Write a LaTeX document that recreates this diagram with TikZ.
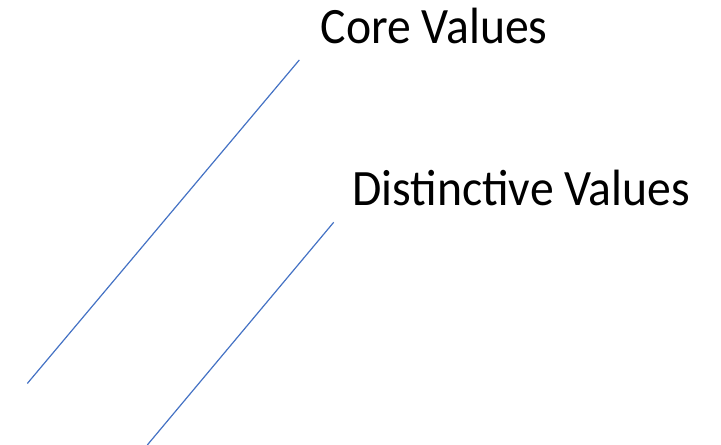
\documentclass[tikz,border=0pt]{standalone}
\usepackage{fontspec}
\setmainfont[FakeStretch=0.935]{Carlito}
\usepackage{tikz}
\usetikzlibrary{calc}
\definecolor{ValueBlue}{HTML}{4472C4}
\tikzstyle{ValueLabel}=[anchor=base west, inner sep=0pt, font=\fontsize{38.25pt}{46pt}\selectfont]
\tikzstyle{ValueLine}=[draw=ValueBlue, line width=0.9pt]

\begin{document}
\begin{tikzpicture}[x=0.75pt, y=-0.75pt]
\useasboundingbox (0,0) rectangle (721,445);
\node[ValueLabel](CORE) at (320.5,44) {Core Values};
\node[ValueLabel](DIST) at (352,205.7) {Distinctive Values};

\coordinate (CoreTop) at (299.3,60);
\coordinate (CoreEnd) at (27.3,383.5);
\coordinate (DistTop) at (333.7,222.3);
\coordinate (DistEnd) at (147.3,445);

\draw[ValueLine](CoreTop) -- (CoreEnd);
\draw[ValueLine](DistTop) -- (DistEnd);
\end{tikzpicture}
\end{document}
